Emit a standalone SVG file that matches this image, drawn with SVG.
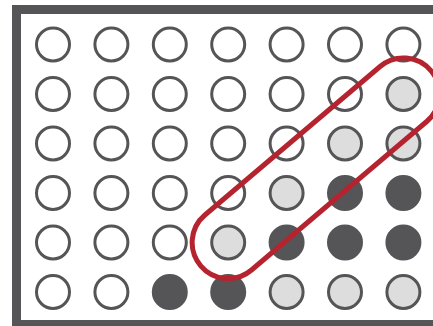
<svg xmlns="http://www.w3.org/2000/svg" width="433" height="326" viewBox="0 0 433 326">
<style>
.e{fill:#ffffff;stroke:#555558;stroke-width:3}
.l{fill:#dddddd;stroke:#555558;stroke-width:3}
.d{fill:#555558;stroke:#555558;stroke-width:3}
</style>
<rect x="0" y="0" width="433" height="326" fill="#ffffff"/>
<rect id="frame" x="16.5" y="9.5" width="440" height="315" fill="none" stroke="#555558" stroke-width="9"/>
<g id="row0">
<circle class="e" cx="53" cy="44.5" r="16.5"/><circle class="e" cx="111.4" cy="44.5" r="16.5"/><circle class="e" cx="169.8" cy="44.5" r="16.5"/><circle class="e" cx="228.2" cy="44.5" r="16.5"/><circle class="e" cx="286.6" cy="44.5" r="16.5"/><circle class="e" cx="345" cy="44.5" r="16.5"/><circle class="e" cx="403.4" cy="44.5" r="16.5"/>
</g>
<g id="row1">
<circle class="e" cx="53" cy="94" r="16.5"/><circle class="e" cx="111.4" cy="94" r="16.5"/><circle class="e" cx="169.8" cy="94" r="16.5"/><circle class="e" cx="228.2" cy="94" r="16.5"/><circle class="e" cx="286.6" cy="94" r="16.5"/><circle class="e" cx="345" cy="94" r="16.5"/><circle class="l" cx="403.4" cy="94" r="16.5"/>
</g>
<g id="row2">
<circle class="e" cx="53" cy="143.5" r="16.5"/><circle class="e" cx="111.4" cy="143.5" r="16.5"/><circle class="e" cx="169.8" cy="143.5" r="16.5"/><circle class="e" cx="228.2" cy="143.5" r="16.5"/><circle class="e" cx="286.6" cy="143.5" r="16.5"/><circle class="l" cx="345" cy="143.5" r="16.5"/><circle class="l" cx="403.4" cy="143.5" r="16.5"/>
</g>
<g id="row3">
<circle class="e" cx="53" cy="193" r="16.5"/><circle class="e" cx="111.4" cy="193" r="16.5"/><circle class="e" cx="169.8" cy="193" r="16.5"/><circle class="e" cx="228.2" cy="193" r="16.5"/><circle class="l" cx="286.6" cy="193" r="16.5"/><circle class="d" cx="345" cy="193" r="16.5"/><circle class="d" cx="403.4" cy="193" r="16.5"/>
</g>
<g id="row4">
<circle class="e" cx="53" cy="242.5" r="16.5"/><circle class="e" cx="111.4" cy="242.5" r="16.5"/><circle class="e" cx="169.8" cy="242.5" r="16.5"/><circle class="l" cx="228.2" cy="242.5" r="16.5"/><circle class="d" cx="286.6" cy="242.5" r="16.5"/><circle class="d" cx="345" cy="242.5" r="16.5"/><circle class="d" cx="403.4" cy="242.5" r="16.5"/>
</g>
<g id="row5">
<circle class="e" cx="53" cy="292" r="16.5"/><circle class="e" cx="111.4" cy="292" r="16.5"/><circle class="d" cx="169.8" cy="292" r="16.5"/><circle class="d" cx="228.2" cy="292" r="16.5"/><circle class="l" cx="286.6" cy="292" r="16.5"/><circle class="l" cx="345" cy="292" r="16.5"/><circle class="l" cx="403.4" cy="292" r="16.5"/>
</g>
<g id="highlight">
<path d="M 251.5 270 L 426.7 121.5 A 36 36 0 0 0 380.1 66.5 L 204.9 215 A 36 36 0 0 0 251.5 270 Z" fill="none" stroke="#b5232e" stroke-width="5"/>
</g>
</svg>
